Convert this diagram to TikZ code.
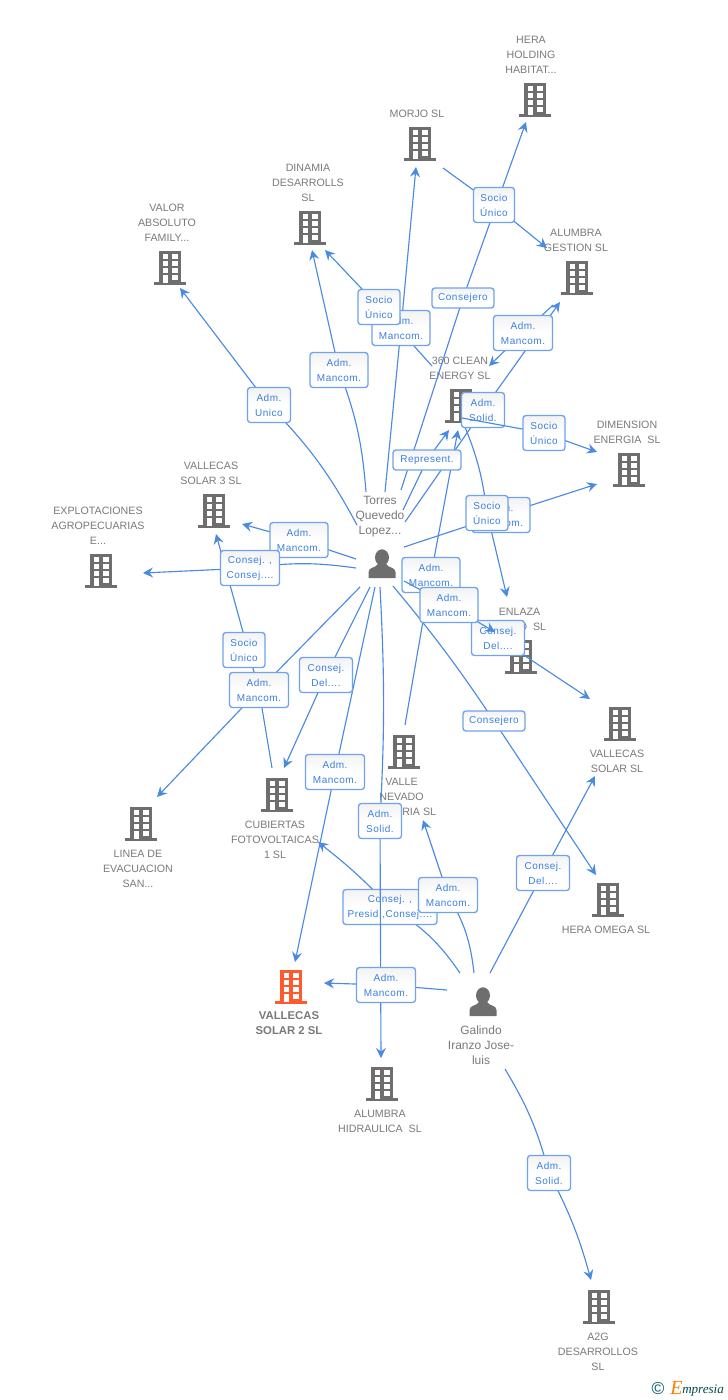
\documentclass[tikz,border=0pt]{standalone}
\usepackage{fontspec}
\setmainfont{Liberation Sans}
\newfontfamily\lblfont[LetterSpace=5]{Liberation Sans}
\newfontfamily\logofont{Liberation Serif}
\usetikzlibrary{arrows.meta}
\definecolor{edgeblue}{HTML}{4A8AE2}
\definecolor{boxblue}{HTML}{6FA3EC}
\definecolor{lbltext}{HTML}{3B7FE0}
\definecolor{nametext}{HTML}{7A7A7A}
\definecolor{icongray}{HTML}{6E6E6E}
\definecolor{iconorange}{HTML}{FF5A2D}
\pgfdeclarelayer{back}\pgfdeclarelayer{lowedges}\pgfdeclarelayer{lowlabels}\pgfdeclarelayer{overedges}
\pgfsetlayers{back,lowedges,lowlabels,overedges,main}
\tikzset{
  x=0.75pt,y=-0.75pt,
  conn/.style={draw=edgeblue,line width=0.85pt,-{Stealth[length=7.5pt,width=7.5pt,inset=2.6pt]}},
  lbl/.style={draw=boxblue,line width=1pt,rounded corners=2.2pt,top color=black!5,bottom color=white,middle color=white,
    inner sep=0pt,minimum width=#1*0.75pt,minimum height=26.25pt,align=center,text=lbltext,
    font=\lblfont\fontsize{7.5pt}{11.25pt}\selectfont},
  lbl/.default=58,
  lblthin/.style={lbl=#1,minimum height=15pt},
  cname/.style={inner sep=0pt,yshift=-0.4pt,align=center,text=nametext,font=\fontsize{8pt}{11.25pt}\selectfont},
  pname/.style={inner sep=0pt,align=center,text=nametext,font=\fontsize{9pt}{11.25pt}\selectfont},
  bname/.style={inner sep=0pt,align=center,text=nametext,font=\bfseries\fontsize{8.5pt}{11.25pt}\selectfont},
  iconanchor/.style={inner sep=0pt,minimum width=24pt,minimum height=25pt},
  pics/bldg/.style={code={
    \fill[#1] (-11,-17) rectangle (11,14);
    \fill[#1] (-16,14) rectangle (16,17);
    \foreach \yy in {-14,-7,0,7}{
      \fill[white] (-7.5,\yy) rectangle (-2,\yy+4.6);
      \fill[white] (2,\yy) rectangle (7.5,\yy+4.6);}
    \fill[white] (-7.5,7) rectangle (-2,15);
  }},
  pics/personicon/.style={code={
    \fill[icongray] (0,-7.5) ellipse (7 and 8.2);
    \fill[icongray] (-13.5,13) -- (-13.5,7) .. controls (-13.5,2) and (-6,3) .. (-4,-1) -- (4,-1) .. controls (6,3) and (13.5,2) .. (13.5,7) -- (13.5,13) -- cycle;
  }}
}
\newcommand{\conn}[5]{\draw[conn] (#1) to[bend left=#4] (#2.center) to[bend left=#5] (#3);}
\begin{document}
\begin{tikzpicture}
\useasboundingbox (0,0) rectangle (728,1400);

% free ends of the connectors: tail and tip coordinates
\coordinate (sA) at (357,525); \coordinate (tA) at (180,288);
\coordinate (sB) at (366,492); \coordinate (tB) at (312,250);
\coordinate (sC) at (385,492); \coordinate (tC) at (416,167);
\coordinate (sD) at (432,366); \coordinate (tD) at (325,250);
\coordinate (sE) at (401,490); \coordinate (tE) at (526,122);
\coordinate (sF) at (443,168); \coordinate (tF) at (547,248);
\coordinate (sG) at (405,522); \coordinate (tG) at (560,302);
\coordinate (sH) at (553,305); \coordinate (tH) at (489,366);
\coordinate (sI) at (403,510); \coordinate (tI) at (449,430);
\coordinate (sJ) at (405,725); \coordinate (tJ) at (458,430);
\coordinate (sK) at (462,418); \coordinate (tK) at (597,452);
\coordinate (sL) at (462,420); \coordinate (tL) at (507,597);
\coordinate (sM) at (404,547); \coordinate (tM) at (597,484);
\coordinate (sN) at (393,586); \coordinate (tN) at (596,875);
\coordinate (sO) at (404,581); \coordinate (tO) at (590,699);
\coordinate (sP) at (404,581); \coordinate (tP) at (495,632);
\coordinate (sQ) at (356,559); \coordinate (tQ) at (242,524);
\coordinate (sR) at (356,568); \coordinate (tR) at (143,573);
\coordinate (sS) at (272,768); \coordinate (tS) at (216,534);
\coordinate (sT) at (360,587); \coordinate (tT) at (157,797);
\coordinate (sU) at (370,587); \coordinate (tU) at (284,768);
\coordinate (sV) at (375,587); \coordinate (tV) at (295,962);
\coordinate (sW) at (380,587); \coordinate (tW) at (381,1058);
\coordinate (sX) at (447,990); \coordinate (tX) at (324,983);
\coordinate (sY) at (460,973); \coordinate (tY) at (318,842);
\coordinate (sZ) at (474,973); \coordinate (tZ) at (423,820);
\coordinate (sAA) at (490,973); \coordinate (tAA) at (595,776);
\coordinate (sAB) at (505,1069); \coordinate (tAB) at (591,1280);

\begin{pgfonlayer}{back}
  \fill[white] (0,0) rectangle (728,1400);
  % building icons
  \foreach \nm/\px/\py in {hera/535/100,morjo/420/144,dinamia/310/228,valor/170/268,alumbrag/577/278,clean/461/406,dimension/629/470,vsol3/214/511,explot/101/571,enlaza/521/657,vsol/620/724,valle/404/752,cubiertas/277/795,linea/141/824,omega/608/900,alumbrah/382/1084,atwog/599/1307}{
    \node[iconanchor] (i\nm) at (\px,\py) {};
    \pic at (\px,\py) {bldg=icongray};
  }
  \node[iconanchor] (ivsol2) at (291,987) {};
  \pic at (291,987) {bldg=iconorange};
  \node[iconanchor] (ptorres) at (382,565) {};
  \pic at (382,565) {personicon};
  \node[iconanchor] (pgalindo) at (483,1003) {};
  \pic at (483,1003) {personicon};

  % names
  \node[cname] (nhera) at (531,54) {HERA\\HOLDING\\HABITAT...};
  \node[cname] (nmorjo) at (417,113) {MORJO SL};
  \node[cname] (ndinamia) at (308,182) {DINAMIA\\DESARROLLS\\SL};
  \node[cname] (nvalor) at (167,222) {VALOR\\ABSOLUTO\\FAMILY...};
  \node[cname] (nalumbrag) at (576,239.5) {ALUMBRA\\GESTION SL};
  \node[cname] (nclean) at (460,367.5) {360 CLEAN\\ENERGY SL};
  \node[cname] (ndimension) at (627,431.5) {DIMENSION\\ENERGIA\ \ SL};
  \node[cname] (nvsol3) at (211,472.5) {VALLECAS\\SOLAR 3 SL};
  \node[cname] (nexplot) at (98,525) {EXPLOTACIONES\\AGROPECUARIAS\\E...};
  \node[cname] (nenlaza) at (519.5,618.5) {ENLAZA\\\hspace*{19.5pt}O\ \ SL};
  \node[cname] (nvsol) at (617,760.5) {VALLECAS\\SOLAR SL};
  \node[cname] (nvalle) at (401.5,796) {VALLE\\NEVADO\\\hspace*{26.5pt}RIA SL};
  \node[cname] (ncubiertas) at (275,839) {CUBIERTAS\\FOTOVOLTAICAS\\1 SL};
  \node[cname] (nlinea) at (138,868) {LINEA DE\\EVACUACION\\SAN...};
  \node[cname] (nomega) at (606,929) {HERA OMEGA SL};
  \node[bname] (nvsol2) at (289,1023.5) {VALLECAS\\SOLAR 2 SL};
  \node[cname] (nalumbrah) at (380,1120.5) {ALUMBRA\\HIDRAULICA\ \ SL};
  \node[cname] (natwog) at (598,1351) {A2G\\DESARROLLOS\\SL};
  \node[pname] (ntorres) at (380,517) {Torres\\Quevedo\\Lopez...};
  \node[pname] (ngalindo) at (481,1045) {Galindo\\Iranzo Jose-\\luis};
\end{pgfonlayer}

% labels under the top edges
\begin{pgfonlayer}{lowlabels}
  \node[lbl=43] (lSolidB) at (483,410) {Adm.\\Solid.};
  \node[lbl=94] (lPresid) at (390,907) {Consej. ,\\Presid.,Consej....};
  \node[lbl=58] (lMancF) at (431,575) {Adm.\\Mancom.};
  \node[lbl=53] (lDelB) at (498,638) {Consej.\\Del....};
\end{pgfonlayer}

% labels on top
\node[lbl=58] (lMancB) at (339,370) {Adm.\\Mancom.};
\node[lbl=43] (lUnico) at (269,405) {Adm.\\Unico};
\node[lbl=58] (lMancC) at (401,328) {Adm.\\Mancom.};
\node[lbl=42] (lSocioD) at (379,307) {Socio\\Único};
\node[lblthin=62] (lConsE) at (463,298) {Consejero};
\node[lbl=41] (lSocioF) at (494,205) {Socio\\Único};
\node[lbl=59] (lMancH) at (523,333) {Adm.\\Mancom.};
\node[lblthin=68] (lRepr) at (427,460) {Represent.};
\node[lbl=42] (lSocioK) at (544,433) {Socio\\Único};
\node[lbl=58] (lMancM) at (501,515) {Adm.\\Mancom.};
\node[lbl=42] (lSocioL) at (487,513) {Socio\\Único};
\node[lbl=58] (lMancP) at (449,605) {Adm.\\Mancom.};
\node[lblthin=62] (lConsN) at (494,721) {Consejero};
\node[lbl=58] (lMancQ) at (299,540) {Adm.\\Mancom.};
\node[lbl=59] (lConsR) at (250,568) {Consej. ,\\Consej....};
\node[lbl=42] (lSocioS) at (244,650) {Socio\\Único};
\node[lbl=59] (lMancT) at (259,690) {Adm.\\Mancom.};
\node[lbl=53] (lDelU) at (326,675) {Consej.\\Del....};
\node[lbl=59] (lMancV) at (335,772) {Adm.\\Mancom.};
\node[lbl=43] (lSolidW) at (380,821) {Adm.\\Solid.};
\node[lbl=59] (lMancX) at (386,985) {Adm.\\Mancom.};
\node[lbl=59] (lMancZ) at (448,895) {Adm.\\Mancom.};
\node[lbl=53] (lDelAA) at (543,873) {Consej.\\Del....};
\node[lbl=43] (lSolidAB) at (549,1173) {Adm.\\Solid.};

% the logo
\node[inner sep=0pt,text=teal!75!black,font=\fontsize{13pt}{14pt}\selectfont] (logoc) at (658,1388) {©};
\node[inner sep=0pt,anchor=base west,text=orange,font=\logofont\itshape\fontsize{15pt}{15pt}\selectfont] (logoe) at (670,1394) {E};
\node[inner sep=0pt,anchor=base west,text=teal!60!black,font=\logofont\itshape\fontsize{9.8pt}{11pt}\selectfont] (logot) at (682,1393) {mpresia};

\begin{pgfonlayer}{lowedges}
  \conn{sA}{lUnico}{tA}{-8}{0}
  \conn{sB}{lMancB}{tB}{-8}{0}
  \conn{sC}{lMancC}{tC}{0}{0}
  \conn{sD}{lSocioD}{tD}{0}{0}
  \conn{sE}{lConsE}{tE}{0}{0}
  \conn{sF}{lSocioF}{tF}{0}{0}
  \conn{sG}{lSolidB}{tG}{0}{0}
  \conn{sH}{lMancH}{tH}{0}{0}
  \conn{sI}{lRepr}{tI}{0}{0}
  \conn{sJ}{lMancF}{tJ}{0}{0}
  \conn{sL}{lSocioL}{tL}{8}{0}
  \conn{sM}{lMancM}{tM}{0}{0}
  \conn{sN}{lConsN}{tN}{3}{0}
  \conn{sO}{lDelB}{tO}{0}{0}
  \conn{sQ}{lMancQ}{tQ}{0}{0}
  \conn{sR}{lConsR}{tR}{-8}{0}
  \conn{sS}{lMancT}{tS}{0}{0}
  \conn{sT}{lMancT}{tT}{0}{0}
  \conn{sU}{lDelU}{tU}{0}{0}
  \conn{sV}{lMancV}{tV}{0}{0}
  \conn{sX}{lMancX}{tX}{0}{0}
  \conn{sY}{lPresid}{tY}{-12}{-4}
  \conn{sZ}{lMancZ}{tZ}{-12}{0}
  \conn{sAA}{lDelAA}{tAA}{0}{0}
  \conn{sAB}{lSolidAB}{tAB}{8}{6}
\end{pgfonlayer}

\begin{pgfonlayer}{overedges}
  \conn{sK}{lSocioK}{tK}{0}{0}
  \conn{sP}{lMancP}{tP}{0}{0}
  \conn{sW}{lSolidW}{tW}{3}{0}
\end{pgfonlayer}
\end{tikzpicture}
\end{document}
